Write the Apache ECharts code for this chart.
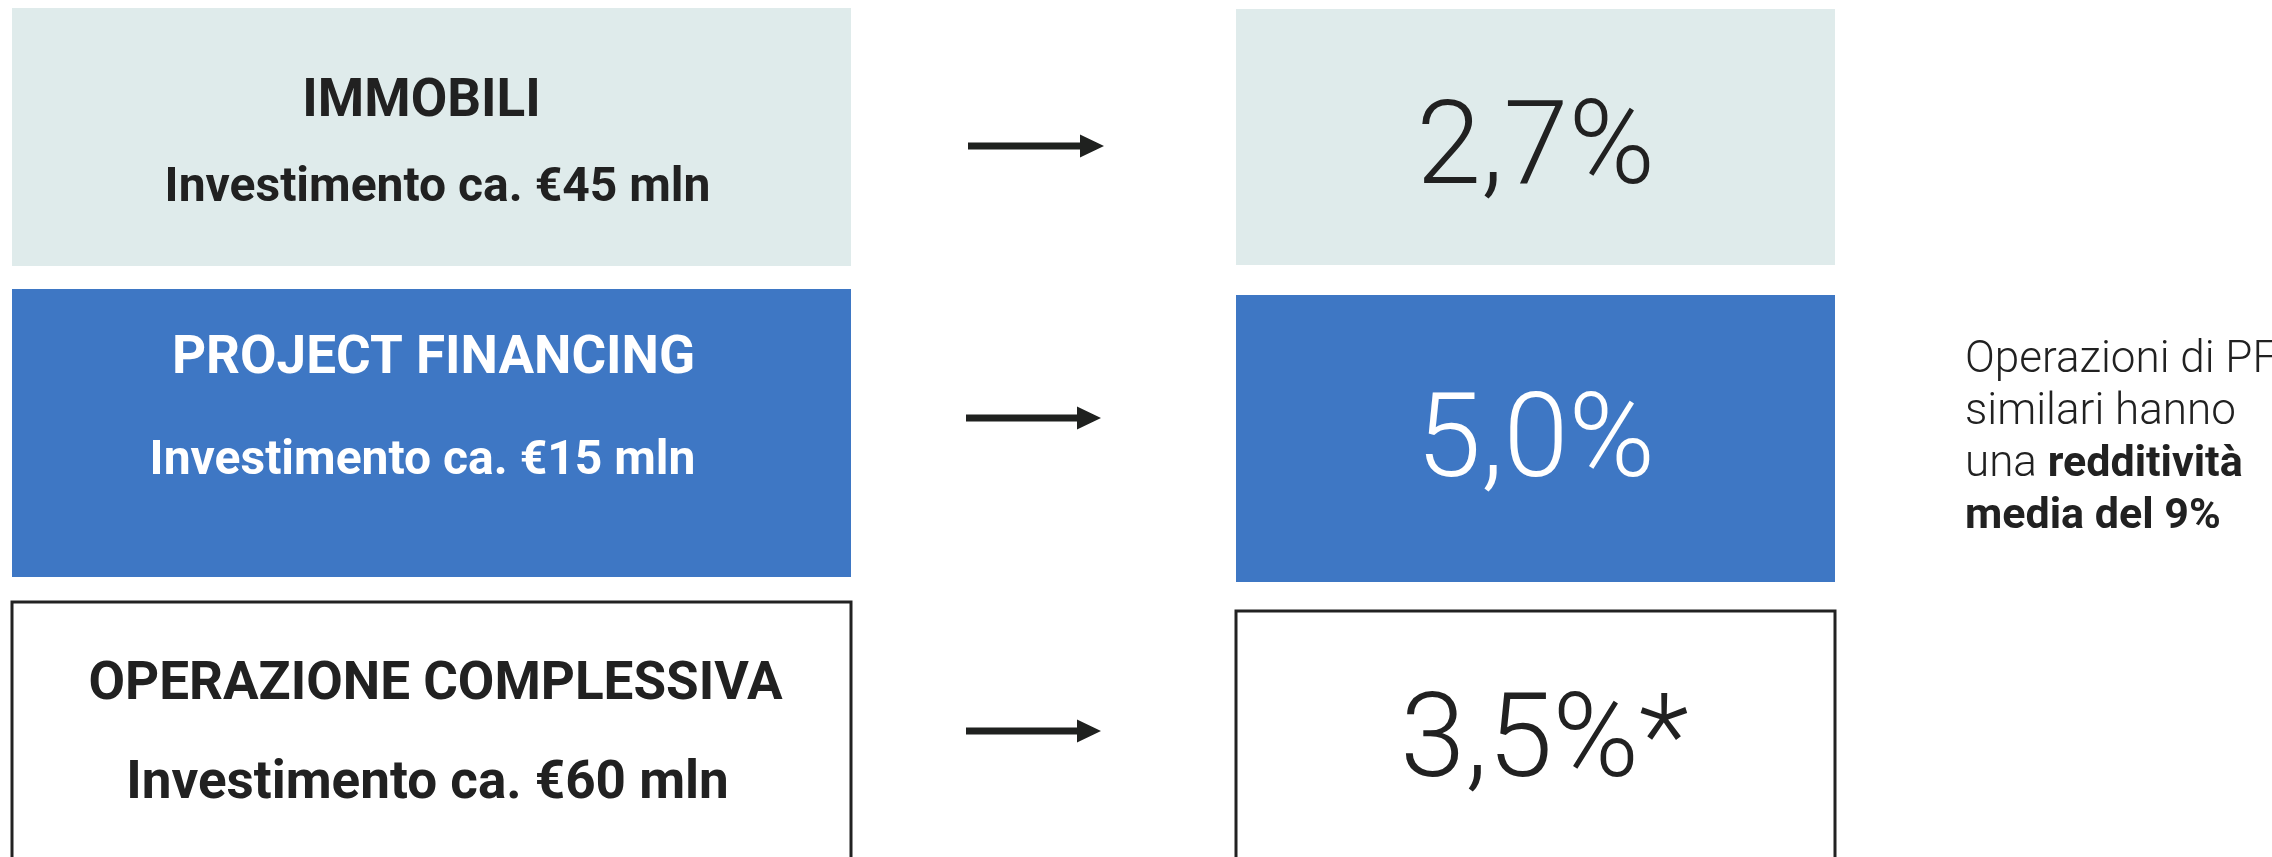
<!DOCTYPE html>
<html>
<head>
<meta charset="utf-8">
<script src="https://cdn.jsdelivr.net/npm/echarts@6/dist/echarts.min.js"></script>
<style>
  html, body { margin: 0; padding: 0; background: #ffffff; }
  #chart { width: 2272px; height: 857px; }
</style>
</head>
<body>
<div id="chart"></div>
<script>
// ---- data ----
const categories = ['IMMOBILI', 'PROJECT FINANCING', 'OPERAZIONE COMPLESSIVA'];
const investments = [45, 15, 60];          // € mln
const yields = [2.7, 5.0, 3.5];            // %
const yieldMarks = ['', '', '*'];
const noteLight1 = 'Operazioni di PF';
const noteLight2 = 'similari hanno';
const noteLight3 = 'una ';
const noteBold3 = 'redditività';
const noteBold4 = 'media del 9%';

// ---- layout / style (pixel space of the hidden axes) ----
const W = 2272, H = 857;
const leftBox = { x0: 12, x1: 851 };
const rightBox = { x0: 1236, x1: 1835 };
const leftRows = [[8, 266], [289, 577], [602, 900]];
const rightRows = [[9, 265], [295, 582], [611, 900]];
const titleY = [103, 360, 686];
const investY = [189, 462, 785];
const titleDX = [-10, 2, 4];
const investDX = [6, -9, -4];
const yieldY = [154, 447, 747];
const yieldDX = [0, 0, 9];
const arrowY = [146, 418, 731];
const arrowX = [[968, 1104], [966, 1101], [966, 1101]];
const styles = [
  { fill: '#DFEBEB', stroke: null, text: '#212121' },
  { fill: '#3E77C4', stroke: null, text: '#ffffff' },
  { fill: '#ffffff', stroke: '#222222', text: '#212121' }
];
const titleSize = [53, 53, 53];
const investSize = [48, 48, 53];
const FONT = 'Roboto, "Noto Sans", sans-serif';

function fmtYield(v, m) { return v.toFixed(1).replace('.', ',') + '%' + m; }

const chart = echarts.init(document.getElementById('chart'), null, { renderer: 'canvas' });

chart.setOption({
  animation: false,
  backgroundColor: '#ffffff',
  grid: { left: 0, right: 0, top: 0, bottom: 0 },
  xAxis: { type: 'value', min: 0, max: W, show: false },
  yAxis: { type: 'value', min: 0, max: H, inverse: true, show: false },
  series: [{
    type: 'custom',
    clip: false,
    data: categories.map((c, i) => ({ name: c, value: [i, investments[i], yields[i]] })),
    renderItem: function (params, api) {
      const i = api.value(0);
      const inv = api.value(1);
      const yl = api.value(2);
      const st = styles[i];
      const lt = api.coord([leftBox.x0, leftRows[i][0]]);
      const lb = api.coord([leftBox.x1, leftRows[i][1]]);
      const rt = api.coord([rightBox.x0, rightRows[i][0]]);
      const rb = api.coord([rightBox.x1, rightRows[i][1]]);
      const lcx = (lt[0] + lb[0]) / 2;
      const rcx = (rt[0] + rb[0]) / 2;
      const tY = api.coord([0, titleY[i]])[1];
      const iY = api.coord([0, investY[i]])[1];
      const yY = api.coord([0, yieldY[i]])[1];
      const aY = api.coord([0, arrowY[i]])[1];
      const a0 = api.coord([arrowX[i][0], 0])[0];
      const a1 = api.coord([arrowX[i][1], 0])[0];
      const ah = a1 - 24;
      const boxStyle = st.stroke
        ? { fill: st.fill, stroke: st.stroke, lineWidth: 3 }
        : { fill: st.fill };
      return {
        type: 'group',
        children: [
          { type: 'rect', shape: { x: lt[0], y: lt[1], width: lb[0] - lt[0], height: lb[1] - lt[1] }, style: boxStyle },
          { type: 'rect', shape: { x: rt[0], y: rt[1], width: rb[0] - rt[0], height: rb[1] - rt[1] }, style: boxStyle },
          { type: 'text', style: { text: categories[i], x: lcx + titleDX[i], y: tY, fill: st.text, fontSize: titleSize[i], fontWeight: 'bold', fontFamily: FONT, align: 'center', verticalAlign: 'middle' } },
          { type: 'text', style: { text: 'Investimento ca. €' + inv + ' mln', x: lcx + investDX[i], y: iY, fill: st.text, fontSize: investSize[i], fontWeight: 'bold', fontFamily: FONT, align: 'center', verticalAlign: 'middle' } },
          { type: 'text', style: { text: fmtYield(yl, yieldMarks[i]), x: rcx + yieldDX[i], y: yY, fill: st.text, fontSize: 117, fontWeight: 300, fontFamily: FONT, align: 'center', verticalAlign: 'middle' } },
          { type: 'polygon', shape: { points: [[a0, aY - 3.5], [ah, aY - 3.5], [ah, aY - 11.5], [a1, aY], [ah, aY + 11.5], [ah, aY + 3.5], [a0, aY + 3.5]] }, style: { fill: '#1F211F' } }
        ]
      };
    }
  }],
  graphic: [{
    type: 'text',
    left: 1965,
    top: 443 - 104,
    style: {
      text: '{l|' + noteLight1 + '}\n{l|' + noteLight2 + '}\n{l|' + noteLight3 + '}{b|' + noteBold3 + '}\n{b|' + noteBold4 + '}',
      fill: '#212121',
      rich: {
        l: { fontSize: 44, fontWeight: 300, fontFamily: FONT, lineHeight: 52, fill: '#212121' },
        b: { fontSize: 43, fontWeight: 'bold', fontFamily: FONT, lineHeight: 52, fill: '#212121' }
      }
    }
  }]
});
</script>
</body>
</html>
